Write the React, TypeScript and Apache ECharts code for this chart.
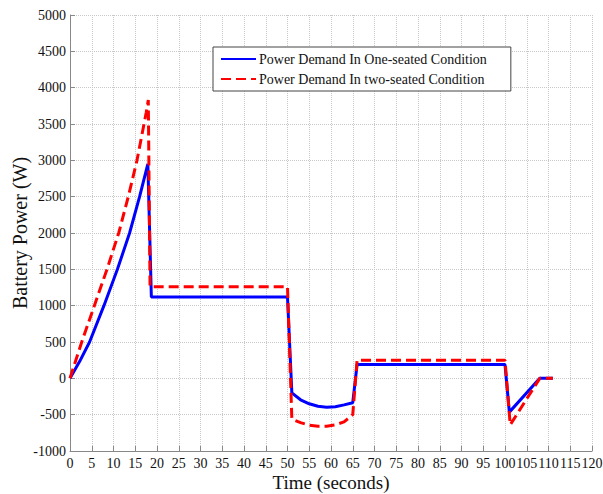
import React, { useEffect, useRef } from "react";
import * as echarts from "echarts";

const timeTicks = [0, 120, 5];
const powerTicks = [-1000, 5000, 500];

const oneSeatedTime = [0, 2.2, 4.5, 7.8, 10.9, 13.7, 16, 17.9, 18.7, 50, 51, 53, 55, 57, 59, 61, 63, 65, 66, 100, 101, 108, 111];
const oneSeatedPower = [0, 230, 500, 1000, 1500, 2000, 2500, 2950, 1120, 1120, -200, -295, -350, -385, -398, -390, -365, -335, 190, 190, -465, 0, 0];

const twoSeatedTime = [0, 2.7, 5.6, 8.5, 11.2, 13.4, 15.4, 17.5, 18, 18.4, 50, 51, 53, 55, 57, 59, 61, 63, 65, 66, 100, 101.2, 108, 111];
const twoSeatedPower = [0, 500, 1000, 1500, 2000, 2500, 3000, 3650, 3830, 1260, 1260, -560, -610, -645, -660, -658, -640, -600, -500, 250, 250, -640, 0, 0];

const seriesNames = ["Power Demand In One-seated Condition", "Power Demand In two-seated Condition"];

const FONT = "Liberation Serif";

export default function App() {
  const ref = useRef<HTMLDivElement>(null);
  useEffect(() => {
    if (!ref.current) return;
    const chart = echarts.init(ref.current, null, { renderer: "svg" });
    const one = oneSeatedTime.map((t, i) => [t, oneSeatedPower[i]]);
    const two = twoSeatedTime.map((t, i) => [t, twoSeatedPower[i]]);
    chart.setOption({
      animation: false,
      backgroundColor: "#fff",
      textStyle: { fontFamily: FONT },
      grid: { left: 70, right: 11, top: 15, bottom: 43, outerBoundsMode: "none", containLabel: false },
      legend: {
        left: 213,
        top: 47,
        orient: "vertical",
        itemWidth: 35,
        itemHeight: 14,
        itemGap: 6,
        padding: [5, 24, 5, 7],
        borderColor: "#444",
        borderWidth: 1,
        backgroundColor: "#fff",
        itemStyle: { opacity: 0 },
        textStyle: { fontFamily: FONT, fontSize: 14, color: "#111", padding: [0, 0, 0, -2] },
        data: seriesNames,
      },
      xAxis: {
        type: "value",
        min: timeTicks[0],
        max: timeTicks[1],
        interval: timeTicks[2],
        name: "Time (seconds)",
        nameLocation: "middle",
        nameGap: 22,
        nameMoveOverlap: false,
        nameTextStyle: { fontFamily: FONT, fontSize: 19, color: "#111" },
        axisLine: { onZero: false, lineStyle: { color: "#888", width: 1 } },
        axisTick: { inside: true, length: 5, lineStyle: { color: "#888" } },
        axisLabel: {
          fontFamily: FONT,
          fontSize: 14,
          color: "#111",
          margin: 5,
          hideOverlap: false,
          interval: 0,
          formatter: (v: number) => String(v),
        },
        splitLine: { show: true, lineStyle: { color: "#c8c8c8", type: "dotted", width: 1 } },
      },
      yAxis: {
        type: "value",
        min: powerTicks[0],
        max: powerTicks[1],
        interval: powerTicks[2],
        name: "Battery Power (W)",
        nameLocation: "middle",
        nameGap: 40,
        nameMoveOverlap: false,
        nameTextStyle: { fontFamily: FONT, fontSize: 20, color: "#111" },
        axisLine: { show: true, lineStyle: { color: "#888", width: 1 } },
        axisTick: { show: true, inside: true, length: 5, lineStyle: { color: "#888" } },
        axisLabel: {
          fontFamily: FONT,
          fontSize: 14,
          color: "#111",
          margin: 4,
          formatter: (v: number) => String(v),
        },
        splitLine: { show: true, lineStyle: { color: "#c8c8c8", type: "dotted", width: 1 } },
      },
      series: [
        {
          name: seriesNames[0],
          type: "line",
          data: one,
          symbol: "none",
          lineStyle: { color: "#0000ff", width: 3 },
          itemStyle: { color: "#0000ff" },
          z: 2,
        },
        {
          name: seriesNames[1],
          type: "line",
          data: two,
          symbol: "none",
          lineStyle: { color: "#ff0000", width: 3, type: [10, 5] },
          itemStyle: { color: "#ff0000" },
          z: 3,
        },
      ],
    });
    return () => chart.dispose();
  }, []);
  return <div ref={ref} style={{ position: "absolute", left: 0, top: 0, width: 603, height: 494 }} />;
}
